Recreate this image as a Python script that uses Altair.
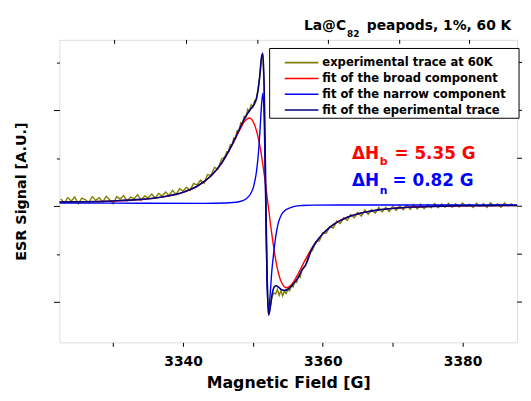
import altair as alt
import pandas as pd

# ---------------- data ----------------
# experimental trace (olive)
exp_x = [3322.5, 3323.0, 3323.5, 3324.0, 3324.5, 3325.0, 3325.5, 3326.0, 3326.5, 3327.0,
         3327.5, 3328.0, 3328.5, 3329.0, 3329.5, 3330.0, 3330.5, 3331.0, 3331.5, 3332.0,
         3332.5, 3333.0, 3333.5, 3334.0, 3334.5, 3335.0, 3335.5, 3336.0, 3336.5, 3337.0,
         3337.5, 3338.0, 3338.5, 3339.0, 3339.5, 3340.0, 3340.5, 3341.0, 3341.5, 3342.0,
         3342.5, 3343.0, 3343.5, 3344.0, 3344.5, 3345.0, 3345.5, 3346.0,
         3346.25, 3346.5, 3346.75, 3347.0, 3347.25, 3347.5, 3347.75, 3348.0, 3348.25, 3348.5,
         3348.75, 3349.0, 3349.25, 3349.5, 3349.75, 3350.0, 3350.25, 3350.5, 3350.75, 3351.0,
         3351.2, 3351.4, 3351.6, 3351.8, 3352.0, 3352.2, 3352.4, 3352.6, 3352.8, 3353.0,
         3353.25, 3353.5, 3353.75, 3354.0, 3354.25, 3354.5, 3354.75, 3355.0, 3355.25, 3355.5,
         3355.75, 3356.0, 3356.25, 3356.5, 3356.75, 3357.0, 3357.5, 3358.0,
         3358.5, 3359.0, 3359.5, 3360.0, 3360.5, 3361.0, 3361.5, 3362.0, 3362.5, 3363.0,
         3363.5, 3364.0, 3364.5, 3365.0, 3365.5, 3366.0, 3366.5, 3367.0, 3367.5, 3368.0,
         3368.5, 3369.0, 3369.5, 3370.0, 3370.5, 3371.0, 3371.5, 3372.0, 3372.5, 3373.0,
         3373.5, 3374.0, 3374.5, 3375.0, 3375.5, 3376.0, 3376.5, 3377.0, 3377.5, 3378.0,
         3378.5, 3379.0, 3379.5, 3380.0, 3380.5, 3381.0, 3381.5, 3382.0, 3382.5, 3383.0,
         3383.5, 3384.0, 3384.5, 3385.0, 3385.5, 3386.0, 3386.5, 3387.0, 3387.5]
exp_y = [0.076, 0.032, 0.091, 0.055, 0.096, 0.024, 0.085, 0.069, 0.036, 0.100,
         0.061, 0.088, 0.043, 0.102, 0.067, 0.025, 0.100, 0.075, 0.111, 0.055,
         0.095, 0.079, 0.120, 0.062, 0.107, 0.087, 0.127, 0.085, 0.134, 0.107,
         0.149, 0.113, 0.165, 0.120, 0.183, 0.158, 0.198, 0.165, 0.237, 0.222,
         0.273, 0.240, 0.331, 0.322, 0.404, 0.388, 0.491, 0.519,
         0.567, 0.564, 0.639, 0.634, 0.712, 0.710, 0.787, 0.788, 0.870, 0.859,
         0.937, 0.932, 1.011, 0.989, 1.058, 1.038, 1.102, 1.114, 1.236, 1.365,
         1.530, 1.580, 1.250, 0.220, -0.640, -1.100, -1.090, -1.000, -0.930, -0.905,
         -0.915, -0.868, -0.930, -0.882, -0.935, -0.885, -0.912, -0.868, -0.882, -0.832,
         -0.842, -0.782, -0.795, -0.730, -0.742, -0.660, -0.628, -0.490,
         -0.462, -0.368, -0.361, -0.278, -0.283, -0.210, -0.227, -0.155, -0.181, -0.121,
         -0.147, -0.087, -0.120, -0.067, -0.103, -0.040, -0.085, -0.036, -0.072, -0.014,
         -0.059, -0.012, -0.055, 0.000, -0.043, 0.006, -0.038, 0.014, -0.032, 0.017,
         -0.027, 0.021, -0.025, 0.017, -0.017, 0.028, -0.015, 0.023, -0.012, 0.030,
         -0.010, 0.026, -0.008, 0.034, -0.002, 0.022, -0.013, 0.031, 0.000, 0.027,
         -0.012, 0.036, 0.003, 0.024, -0.010, 0.033, 0.005, 0.026, -0.001]

# fit of the broad component (red)
broad_x = [3322.33, 3326, 3330, 3334, 3337, 3340, 3342, 3344, 3345.5, 3347, 3348, 3348.8,
           3349.5, 3350.2, 3351, 3351.6, 3352.15, 3352.7, 3353.3, 3354, 3354.8, 3355.6,
           3356.5, 3357.5, 3359, 3361, 3363, 3366, 3370, 3375, 3380, 3387.8]
broad_y = [0.044, 0.047, 0.055, 0.070, 0.095, 0.144, 0.206, 0.314, 0.445, 0.634, 0.779, 0.885,
           0.920, 0.854, 0.626, 0.340, 0.025, -0.291, -0.577, -0.780, -0.850, -0.812,
           -0.700, -0.557, -0.376, -0.219, -0.131, -0.062, -0.023, -0.004, 0.004, 0.008]

# fit of the narrow component (blue)
narrow_x = [3322.33, 3335, 3343, 3346, 3348, 3349, 3349.6, 3350.1, 3350.5, 3350.8, 3351.0,
            3351.2, 3351.41, 3351.6, 3351.82, 3352.0, 3352.23, 3352.45, 3352.7, 3352.9,
            3353.2, 3353.6, 3354.0, 3354.54, 3355.2, 3355.95, 3357, 3358.5, 3365, 3387.8]
narrow_y = [0.034, 0.031, 0.030, 0.034, 0.047, 0.075, 0.122, 0.207, 0.358, 0.568, 0.778,
            1.026, 1.179, 0.942, 0.025, -0.740, -1.090, -0.929, -0.677, -0.533,
            -0.347, -0.182, -0.100, -0.047, -0.021, -0.002, 0.007, 0.011, 0.013, 0.013]

# fit of the experimental trace (navy)
fit_x = [3322.33, 3326, 3330, 3334, 3337, 3340, 3342, 3344, 3345.5, 3347, 3348, 3349,
         3349.6, 3350.1, 3350.5, 3350.8, 3351.0, 3351.2, 3351.41, 3351.6, 3351.82, 3352.0,
         3352.23, 3352.45, 3352.7, 3352.9, 3353.1, 3353.35, 3353.7, 3354.1, 3354.55,
         3355.0, 3355.55, 3356.5, 3357.0, 3357.7, 3358.4, 3359, 3360, 3361, 3362, 3363,
         3364, 3366, 3368, 3370, 3373, 3376, 3380, 3384, 3387.8]
fit_y = [0.044, 0.047, 0.055, 0.071, 0.096, 0.146, 0.208, 0.317, 0.450, 0.642, 0.795, 0.941,
         1.007, 1.052, 1.124, 1.244, 1.379, 1.541, 1.594, 1.258, 0.218, -0.654,
         -1.136, -1.069, -0.935, -0.868, -0.837, -0.829, -0.847, -0.871, -0.878,
         -0.866, -0.830, -0.742, -0.670, -0.590, -0.451, -0.379, -0.287, -0.221, -0.169, -0.132,
         -0.102, -0.063, -0.038, -0.023, -0.009, -0.002, 0.004, 0.006, 0.008]

x_ticks = [3330, 3340, 3350, 3360, 3370, 3380]
y_ticks = [-1, -0.5, 0, 0.5, 1, 1.5]
top_ticks = [3330.2, 3340.5, 3350.7, 3360.8, 3371.0, 3381.0]
right_ticks = [-1, -0.5, 0, 0.5, 1, 1.5]

legend_labels = ["experimental trace at 60K", "fit of the broad component",
                 "fit of the narrow component", "fit of the eperimental trace"]
series_colors = ["#808000", "#ff0000", "#0000ff", "#000080"]

FONT = "DejaVu Sans"
W, H = 463, 306

xs = alt.Scale(domain=[3322.3, 3387.8], nice=False, zero=False)
ys = alt.Scale(domain=[-1.42, 1.735], nice=False, zero=False)

X_ENC = alt.X("x:Q", scale=xs, axis=alt.Axis(
    values=x_ticks, format="d",
    labelExpr="datum.value % 20 == 0 ? datum.label : ''",
    title="Magnetic Field [G]", domain=False, grid=False,
    tickSize=4, tickColor="black", tickWidth=1,
    labelFont=FONT, labelFontSize=14, labelFontWeight="bold", labelColor="black",
    labelBaseline="alphabetic", labelPadding=19.7, labelFlush=False, labelOverlap=False,
    titleFont=FONT, titleFontSize=16, titleFontWeight="bold", titleColor="black",
    titleX=231.5, titleY=45.5, titleBaseline="alphabetic"))

Y_ENC = alt.Y("y:Q", scale=ys, axis=alt.Axis(
    values=y_ticks, labels=False, domain=False, grid=False,
    tickSize={"condition": {"test": "datum.value % 1 === 0", "value": 6}, "value": 3},
    tickColor="black", tickWidth=1,
    title="ESR Signal [A.U.]",
    titleFont=FONT, titleFontSize=14.5, titleFontWeight="bold", titleColor="black",
    titleX=-38.5, titleY=153, titleBaseline="middle"))


def series(xv, yv, color, width, interp="monotone"):
    df = pd.DataFrame({"x": xv, "y": yv})
    return alt.Chart(df).mark_line(color=color, strokeWidth=width,
                                   interpolate=interp).encode(x=X_ENC, y=Y_ENC)


layers = [
    series(exp_x, exp_y, series_colors[0], 1.4, "linear"),
    series(broad_x, broad_y, series_colors[1], 1.4),
    series(narrow_x, narrow_y, series_colors[2], 1.4),
    series(fit_x, fit_y, series_colors[3], 1.6),
]

# top (inward) and right (outward) ticks of the frame
layers.append(alt.Chart(pd.DataFrame({"x": top_ticks})).mark_rule(color="black", strokeWidth=1)
              .encode(x=X_ENC, y=alt.value(0), y2=alt.value(4)))
layers.append(alt.Chart(pd.DataFrame({"y": right_ticks})).mark_rule(color="black", strokeWidth=1)
              .encode(y=Y_ENC, x=alt.value(W), x2=alt.value(W + 5)))

one = pd.DataFrame({"a": [0]})

# legend box
layers.append(alt.Chart(one).mark_rect(fill="white", stroke="black", strokeWidth=1)
              .encode(x=alt.value(212.7), x2=alt.value(465), y=alt.value(8.7), y2=alt.value(79.3)))
for i, (lab, col) in enumerate(zip(legend_labels, series_colors)):
    ry = 23 + 16 * i
    layers.append(alt.Chart(one).mark_rule(color=col, strokeWidth=1.6)
                  .encode(x=alt.value(228), x2=alt.value(262), y=alt.value(ry)))
    layers.append(alt.Chart(one).mark_text(align="left", baseline="middle", font=FONT,
                                           fontSize=11.7, fontWeight="bold", color="black")
                  .encode(x=alt.value(266), y=alt.value(ry - 0.5), text=alt.value(lab)))


def txt(s, x, y, size, color="black", align="left"):
    return alt.Chart(one).mark_text(align=align, baseline="alphabetic", font=FONT,
                                    fontSize=size, fontWeight="bold", color=color) \
        .encode(x=alt.value(x), y=alt.value(y), text=alt.value(s))


# line-width annotations
layers += [
    txt("ΔH", 296, 120.3, 17, "#ff0000"),
    txt("b", 324, 127, 11, "#ff0000"),
    txt("= 5.35 G", 339, 120.3, 17, "#ff0000"),
    txt("ΔH", 296, 148, 17, "#0000ff"),
    txt("n", 324, 156, 11, "#0000ff"),
    txt("= 0.82 G", 337, 148, 17, "#0000ff"),
]

# title
layers += [
    txt("La@C", 290, -10.3, 14, align="right"),
    txt("82", 291, -3, 9),
    txt("peapods, 1%, 60 K", 311, -10.3, 14),
]

chart = alt.layer(*layers).properties(
    width=W, height=H,
    padding={"left": 52, "top": 30, "right": 6, "bottom": 49},
    autosize=alt.AutoSizeParams(type="none"),
).configure_view(stroke="black", strokeWidth=1).configure(background="white")

chart.save("out.html", embed_options={"renderer": "svg", "actions": False})
